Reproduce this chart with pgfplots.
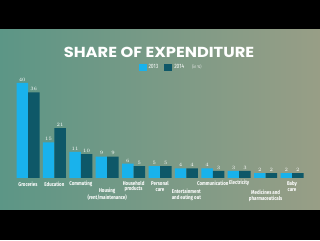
\documentclass[border=0pt]{standalone}
\usepackage{fontspec}
\setmainfont{Fira Sans}
\newfontfamily\condfont{Fira Sans}[FakeStretch=0.8]
\newfontfamily\titlefont{Poppins}[FakeStretch=1.12]
\usepackage{pgfplots}
\pgfplotsset{compat=1.18}
\definecolor{cA}{RGB}{25,178,236}
\definecolor{cB}{RGB}{14,88,104}
\definecolor{bgL}{RGB}{92,150,134}
\definecolor{bgR}{RGB}{152,158,134}
\begin{document}
\begin{tikzpicture}
\fill[black] (0pt,0pt) rectangle (320pt,240pt);
\shade[left color=bgL, right color=bgR] (0pt,30pt) rectangle (320pt,210pt);
\begin{axis}[
  at={(14.8pt,62pt)}, anchor=south west,
  scale only axis, width=290.4pt, height=95pt,
  xmin=-0.5, xmax=10.5, ymin=0, ymax=40,
  axis lines=none, clip=false,
  ybar=0pt, bar width=11.5pt,
  nodes near coords,
  nodes near coords style={font=\condfont\bfseries\fontsize{5.5}{6}\selectfont, text=white, inner sep=1.5pt},
  legend columns=-1,
  legend style={at={(0.538,1.168)}, anchor=center, draw=none, fill=none,
    font=\condfont\fontsize{6.2}{6.2}\selectfont, text=white,
    /tikz/every even column/.append style={column sep=4pt}},
  legend image code/.code={\fill[#1] (0pt,-3.5pt) rectangle (8pt,3.5pt);},
]
\addplot[fill=cA, draw=none] coordinates {(0,40) (1,15) (2,11) (3,9) (4,6) (5,5) (6,4) (7,4) (8,3) (9,2) (10,2)};
\addlegendentry{2013}
\addplot[fill=cB, draw=none] coordinates {(0,36) (1,21) (2,10) (3,9) (4,5) (5,5) (6,4) (7,3) (8,3) (9,2) (10,2)};
\addlegendentry{2014}
\addlegendimage{empty legend}
\addlegendentry{\fontsize{4.5}{5}\selectfont\color{white!85!gray}(in \%)}
\tikzset{catlab/.style={font=\condfont\bfseries\fontsize{5.5}{5.9}\selectfont, text=white, align=center, inner sep=0pt, anchor=center}}
\node[catlab, yshift=-6pt] at (axis cs:0,0) {Groceries};
\node[catlab, yshift=-6pt] at (axis cs:1,0) {Education};
\node[catlab, yshift=-6pt] at (axis cs:2,0) {Commuting};
\node[catlab, yshift=-16pt] at (axis cs:3,0) {Housing\\(rent/maintenance)};
\node[catlab, yshift=-8.5pt] at (axis cs:4,0) {Household\\products};
\node[catlab, yshift=-8.5pt] at (axis cs:5,0) {Personal\\care};
\node[catlab, yshift=-17pt] at (axis cs:6,0) {Entertainment\\and eating out};
\node[catlab, yshift=-5pt] at (axis cs:7,0) {Communication};
\node[catlab, yshift=-5pt] at (axis cs:8,0) {Electricity};
\node[catlab, yshift=-17.5pt] at (axis cs:9,0) {Medicines and\\pharmaceuticals};
\node[catlab, yshift=-8.5pt] at (axis cs:10,0) {Baby\\care};
\end{axis}
\node[font=\titlefont\bfseries\fontsize{14.5}{15}\selectfont, text=white] at (159pt,187.5pt) {SHARE OF EXPENDITURE};
\pgfresetboundingbox
\path[use as bounding box] (0pt,0pt) rectangle (320pt,240pt);
\end{tikzpicture}
\end{document}
